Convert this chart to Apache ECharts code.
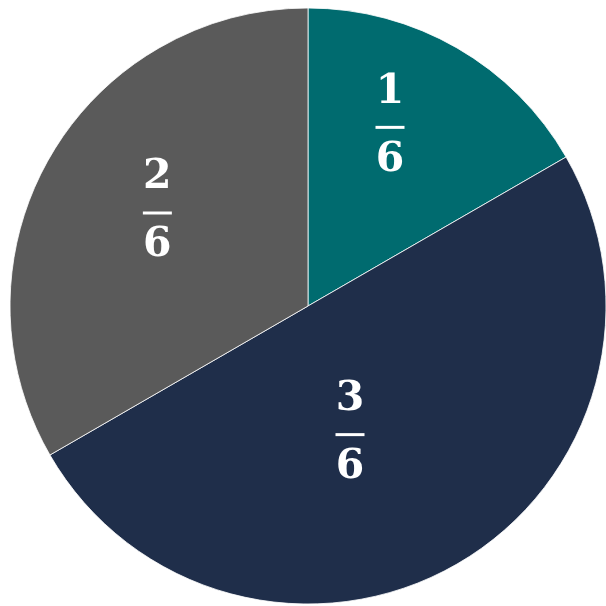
<!DOCTYPE html>
<html>
<head>
<meta charset="utf-8">
<style>
  html, body { margin: 0; padding: 0; background: #ffffff; }
  #chart { width: 606px; height: 606px; }
</style>
<script src="https://cdn.jsdelivr.net/npm/echarts@6/dist/echarts.min.js"></script>
</head>
<body>
<div id="chart"></div>
<script>
// Slice values (sixths), clockwise from 12 o'clock
const numerators = [1, 3, 2];
const denominator = 6;
const sliceColors = ['#006B6F', '#1F2E4A', '#5A5A5A'];
// Nudges of each fraction label away from the default in-slice position
const labelOffsets = [[6, -50], [-34, -6], [-19, -20]];

const chart = echarts.init(document.getElementById('chart'), null, { renderer: 'canvas' });

const digitStyle = {
  color: '#ffffff',
  fontFamily: 'DejaVu Serif',
  fontWeight: 'bold',
  fontSize: 41,
  align: 'center'
};

chart.setOption({
  animation: false,
  backgroundColor: '#ffffff',
  series: [{
    type: 'pie',
    center: [308, 306],
    radius: [0, 298],
    startAngle: 90,
    clockwise: true,
    avoidLabelOverlap: false,
    itemStyle: { borderColor: '#ffffff', borderWidth: 0.8 },
    label: {
      show: true,
      position: 'inside',
      formatter: p => '{num|' + p.value + '}\n{bar| }\n{den|' + denominator + '}',
      rich: {
        num: Object.assign({ lineHeight: 68 }, digitStyle),
        den: Object.assign({ lineHeight: 62 }, digitStyle),
        bar: { width: 29, height: 3, fontSize: 1, lineHeight: 3, backgroundColor: '#ffffff', align: 'center' }
      }
    },
    labelLine: { show: false },
    emphasis: { disabled: true },
    data: numerators.map((v, i) => ({
      value: v,
      itemStyle: { color: sliceColors[i] },
      label: { offset: labelOffsets[i] }
    }))
  }]
});
</script>
</body>
</html>
